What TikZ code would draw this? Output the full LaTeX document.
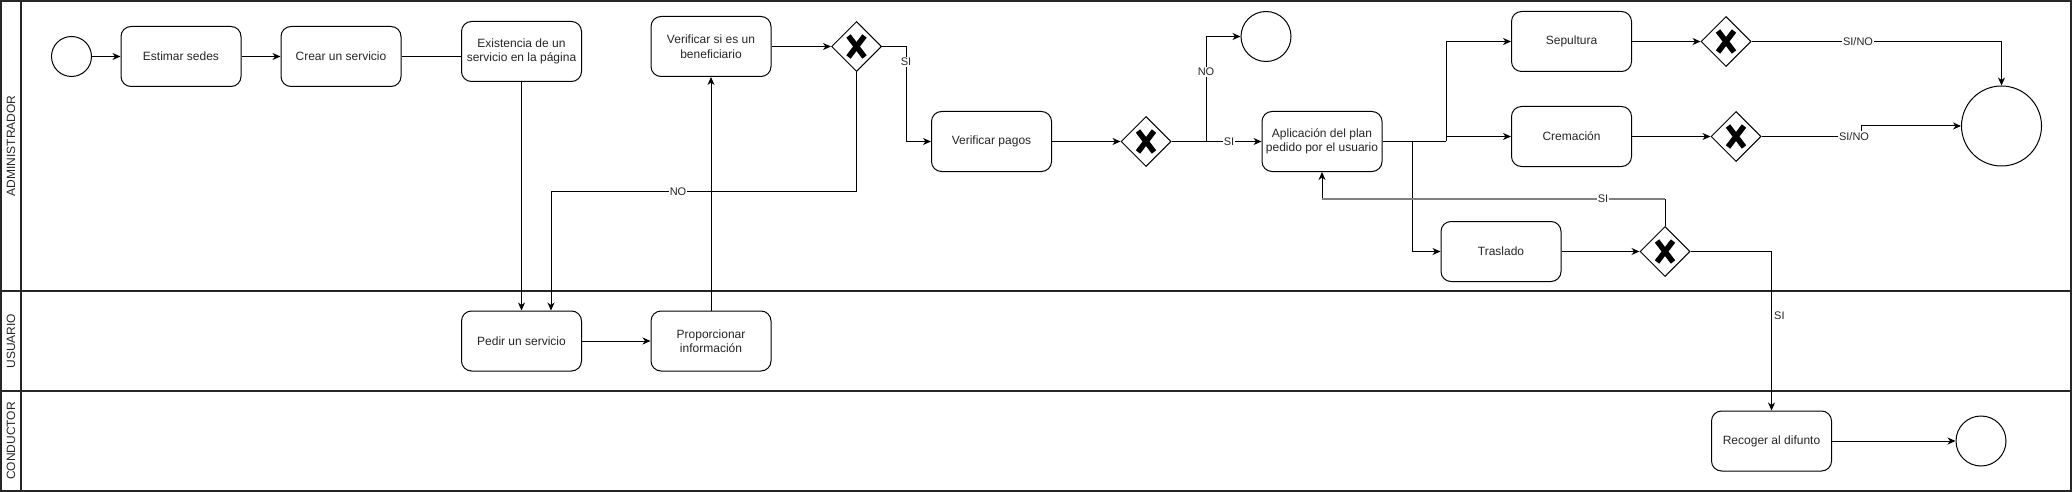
\documentclass[tikz,border=0pt]{standalone}
\usepackage{fontspec}
\setmainfont{Liberation Sans}
\usetikzlibrary{shapes.geometric,arrows.meta,calc}
\begin{document}
\begin{tikzpicture}[x=1pt,y=-1pt,
  every node/.style={font=\fontsize{12}{14.5}\selectfont, text=black!85},
  task/.style={draw=black, line width=1pt, rounded corners=10pt, minimum width=120pt, minimum height=60pt, align=center, inner sep=2pt},
  gw/.style={draw=black, line width=1pt, diamond, minimum width=50pt, minimum height=50pt, inner sep=0pt},
  ev/.style={draw=black, line width=1pt, circle, inner sep=0pt},
  flow/.style={draw=black, line width=1pt, -{Stealth[length=8pt,width=7pt,inset=2.5pt]}},
  plain/.style={draw=black, line width=1pt},
  lbl/.style={fill=white, inner sep=1pt, font=\fontsize{11}{13}\selectfont},
  lane/.style={draw=black!85, line width=1.6pt},
  lanetxt/.style={rotate=90, font=\fontsize{12}{14}\selectfont},
  xmark/.style={draw=black, line width=5.5pt}
]
\useasboundingbox (0,0) rectangle (2072,492);
\fill[white] (0,0) rectangle (2072,492);
% pool and lanes
\draw[lane] (1,1) rectangle (2071,491);
\draw[lane] (21,1) -- (21,491);
\draw[lane] (1,291) -- (2071,291);
\draw[lane] (1,391) -- (2071,391);
\node[lanetxt] (lA) at (11,146) {ADMINISTRADOR};
\node[lanetxt] (lU) at (11,341) {USUARIO};
\node[lanetxt] (lC) at (11,441) {CONDUCTOR};

% nodes
\node[ev, minimum size=40pt] (start) at (71.5,56.5) {};
\node[task] (estimar) at (181,56.5) {Estimar sedes};
\node[task] (crear) at (341,56.5) {Crear un servicio};
\node[task] (exist) at (521.5,51.5) {Existencia de un\\servicio en la página};
\node[task] (verif) at (711,46.5) {Verificar si es un\\beneficiario};
\node[gw] (g1) at (856.5,46.5) {};
\node[task] (pagos) at (991.5,141.5) {Verificar pagos};
\node[gw] (g2) at (1146,141.5) {};
\node[ev, minimum size=50pt] (end1) at (1266,36.5) {};
\node[task] (aplic) at (1322,141.5) {Aplicación del plan\\pedido por el usuario};
\node[task] (sep) at (1571.5,41.5) {Sepultura};
\node[task] (crem) at (1571.5,136.5) {Cremación};
\node[task] (tras) at (1501,251.5) {Traslado};
\node[gw] (gs) at (1726,41.5) {};
\node[gw] (gc) at (1736,136.5) {};
\node[gw] (gt) at (1665,251.5) {};
\node[ev, minimum size=80pt] (end2) at (2001.5,126) {};
\node[task] (pedir) at (521.5,341) {Pedir un servicio};
\node[task] (prop) at (711,341) {Proporcionar\\información};
\node[task] (recoger) at (1771.5,441) {Recoger al difunto};
\node[ev, minimum size=50pt] (end3) at (1981,441) {};

% gateway crosses
\foreach \g in {g1,g2,gs,gc,gt}{
  \draw[xmark] ($(\g)+(-8,-10.5)$) -- ($(\g)+(8,10.5)$);
  \draw[xmark] ($(\g)+(8,-10.5)$) -- ($(\g)+(-8,10.5)$);
}

% helper coordinates
\coordinate (noturn) at (551,191.5);
\coordinate (c1) at (906,46.5);
\coordinate (c2) at (1206,141.5);
\coordinate (c3) at (1446,141.5);
\coordinate (c4) at (1412,141.5);
\coordinate (c5) at (1861,136.5);
\coordinate (c6) at (1665,199);

% connectors
\draw[flow] (start) -- (estimar);
\draw[flow] (estimar) -- (crear);
\draw[plain] (crear.east) -- (crear.east -| exist.west);
\draw[flow] (exist.south) -- (pedir.north);
\draw[flow] (g1.south) |- (noturn) -- (noturn |- pedir.north);
\draw[flow] (pedir) -- (prop);
\draw[flow] (prop.north) -- (verif.south);
\draw[flow] (verif) -- (g1);
\draw[flow] (g1.east) -- (c1) |- (pagos.west);
\draw[flow] (pagos) -- (g2);
\draw[flow] (g2) -- (aplic);
\draw[flow] (c2) |- (end1.west);
\draw[plain] (aplic.east) -- (c3);
\draw[flow] (c3) |- (sep.west);
\draw[flow] (c3 |- crem.west) -- (crem.west);
\draw[flow] (c4) |- (tras.west);
\draw[flow] (sep) -- (gs);
\draw[flow] (crem) -- (gc);
\draw[flow] (tras) -- (gt);
\draw[flow] (gs.east) -| (end2.north);
\draw[flow] (gc.east) -- (c5) |- (end2.west);
\draw[flow] (gt.north) -- (c6) -- (c6 -| aplic.south) -- (aplic.south);
\draw[draw=gray, line width=2pt] (c6) -- (c6 -| aplic.south);
\draw[flow] (gt.east) -| (recoger.north);
\draw[flow] (recoger) -- (end3);

% labels
\node[lbl] (tNO1) at (678,191.5) {NO};
\node[lbl] (tSI1) at (906,62) {SI};
\node[lbl] (tSI2) at (1229,141.5) {SI};
\node[lbl] (tNO2) at (1206,72) {NO};
\node[lbl] (tSN1) at (1858,41.5) {SI/NO};
\node[lbl] (tSN2) at (1854,136.5) {SI/NO};
\node[lbl] (tSI3) at (1603,199) {SI};
\node[lbl, fill=none, anchor=west] (tSI4) at (1773,316) {SI};
\end{tikzpicture}
\end{document}
